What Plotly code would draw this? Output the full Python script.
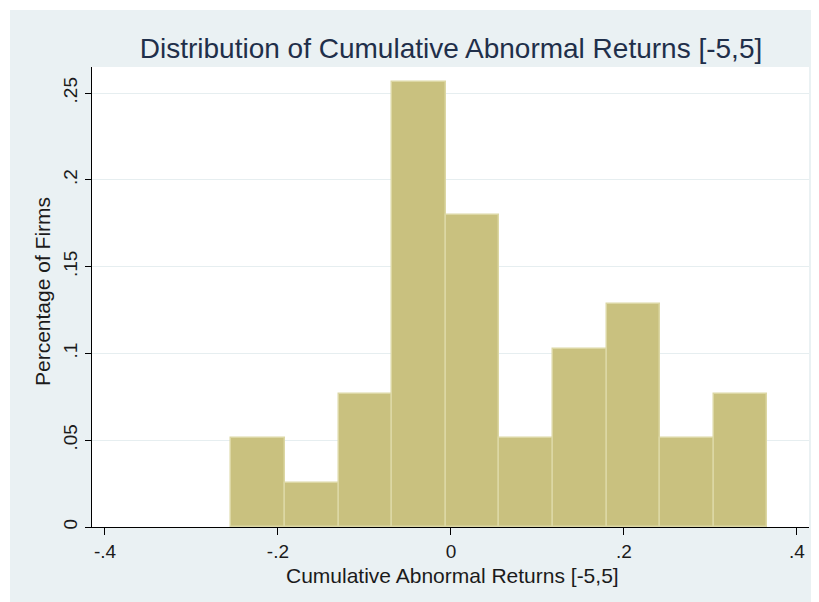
import plotly.graph_objects as go

# Histogram data (fraction of firms per bin)
bin_centers = [-0.223, -0.161, -0.099, -0.037, 0.025, 0.087, 0.149, 0.211, 0.273, 0.335]
fractions = [0.0513, 0.0256, 0.0769, 0.2564, 0.1795, 0.0513, 0.1026, 0.1282, 0.0513, 0.0769]
bin_width = 0.062

x_tick_vals = [-0.4, -0.2, 0, 0.2, 0.4]
x_tick_text = ["-.4", "-.2", "0", ".2", ".4"]
y_tick_vals = [0, 0.05, 0.1, 0.15, 0.2, 0.25]
y_tick_text = ["0", ".05", ".1", ".15", ".2", ".25"]

title_text = "Distribution of Cumulative Abnormal Returns [-5,5]"
x_title = "Cumulative Abnormal Returns [-5,5]"
y_title = "Percentage of Firms"

BG = "#EAF1F3"
BAR = "#C9C17F"
BAR_LINE = "#DCD7A4"
TXT = "#1b1b1b"
FONT = "Liberation Sans, Arial, sans-serif"

# the page body has an 8px margin; figure is sized to fit the window
W, H = 811, 594
l, r, t, b = 84, 10, 59, 75
pw, ph = W - l - r, H - t - b


def px(x):
    return (x - l) / pw


def py(y):
    return 1 - (y - t) / ph


fig = go.Figure()
fig.add_trace(go.Bar(
    x=bin_centers, y=fractions, width=[bin_width] * len(bin_centers),
    marker=dict(color=BAR, line=dict(color=BAR_LINE, width=1.5)),
    hoverinfo="skip",
))

fig.update_layout(
    width=W, height=H,
    margin=dict(l=l, r=r, t=t, b=b, pad=0),
    paper_bgcolor="white",
    plot_bgcolor="rgba(0,0,0,0)",
    showlegend=False,
    bargap=0,
    font=dict(family=FONT, color=TXT, size=19),
    title=dict(text=title_text, x=443 / W, xanchor="center",
               y=1 - 40 / H, yanchor="middle",
               font=dict(size=28, color="#1f2f4a", family=FONT)),
    shapes=[
        dict(type="rect", xref="paper", yref="paper", layer="below",
             x0=px(2), x1=px(W + 5), y0=py(H + 5), y1=py(2),
             fillcolor=BG, line=dict(width=0)),
        dict(type="rect", xref="paper", yref="paper", layer="below",
             x0=0, x1=1, y0=0, y1=1,
             fillcolor="white", line=dict(width=0)),
    ],
    annotations=[
        dict(text=x_title, xref="paper", yref="paper", x=px(444), y=py(567),
             xanchor="center", yanchor="middle", showarrow=False,
             font=dict(size=21, color=TXT)),
        dict(text=y_title, xref="paper", yref="paper", x=px(34), y=py(284),
             xanchor="center", yanchor="middle", showarrow=False, textangle=-90,
             font=dict(size=21, color=TXT)),
    ],
)

fig.update_xaxes(
    range=[-0.415, 0.414],
    tickvals=x_tick_vals, ticktext=x_tick_text,
    ticks="outside", ticklen=7, tickwidth=1.3, tickcolor="black",
    showline=True, linecolor="black", linewidth=1.3,
    showgrid=False, zeroline=False,
    tickfont=dict(size=19, color=TXT),
)
fig.update_yaxes(
    range=[0, 0.265],
    tickvals=y_tick_vals, ticktext=y_tick_text,
    tickangle=-90,
    ticks="outside", ticklen=6, tickwidth=1.3, tickcolor="black",
    showline=True, linecolor="black", linewidth=1.3,
    showgrid=True, gridcolor="#E6EEF0", gridwidth=1.2,
    zeroline=False,
    tickfont=dict(size=19, color=TXT),
)

fig.write_html("out.html")
